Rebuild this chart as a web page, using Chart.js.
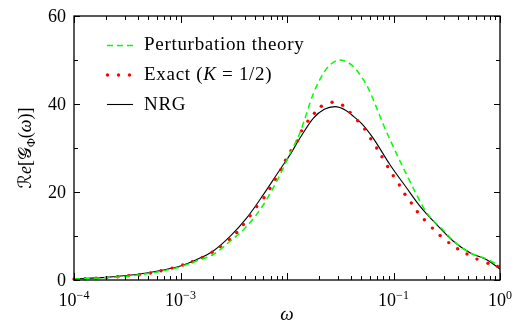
<!DOCTYPE html>
<html>
<head>
<meta charset="utf-8">
<script src="https://cdn.jsdelivr.net/npm/chart.js@4.4.1/dist/chart.umd.min.js"></script>
<style>
  html, body { margin: 0; padding: 0; background: #fff; }
  canvas { display: block; }
</style>
</head>
<body>
<canvas id="chart" width="527" height="320"></canvas>
<script>
// values (x = omega on a log axis)
const exactOmega = [1.00e-4, 1.27e-4, 1.61e-4, 2.03e-4, 2.57e-4, 3.26e-4, 4.10e-4, 5.21e-4, 6.56e-4, 8.32e-4,
  1.05e-3, 1.29e-3, 1.60e-3, 1.98e-3, 2.37e-3, 2.88e-3, 3.37e-3, 3.89e-3, 4.50e-3, 5.19e-3,
  6.08e-3, 6.92e-3, 7.76e-3, 8.79e-3, 9.70e-3, 1.09e-2, 1.25e-2, 1.37e-2, 1.57e-2, 1.81e-2,
  2.10e-2, 2.65e-2, 3.33e-2, 3.91e-2, 4.61e-2, 5.36e-2, 6.11e-2, 6.95e-2, 7.80e-2, 8.81e-2,
  9.95e-2, 0.1135, 0.128, 0.147, 0.1675, 0.195, 0.232, 0.274, 0.330, 0.400,
  0.490, 0.608, 0.771, 0.951];
const exactValues = [0.2, 0.3, 0.4, 0.55, 0.75, 1.0, 1.2, 1.6, 2.1, 2.7,
  3.4, 4.15, 5.1, 6.3, 7.6, 9.2, 10.8, 12.6, 14.6, 16.7,
  18.7, 20.8, 22.9, 25.1, 27.2, 29.4, 31.6, 33.9, 36.1, 37.9,
  39.5, 40.4, 39.7, 38.1, 36.2, 34.3, 32.1, 30.0, 28.0, 25.8,
  23.7, 21.6, 19.5, 17.5, 15.5, 13.7, 11.8, 10.1, 8.5, 7.1,
  5.9, 4.75, 3.8, 3.1];

const nrgOmega = [1.0e-4, 2.0e-4, 4.0e-4, 6.3e-4, 1.0e-3, 1.41e-3, 2.03e-3, 2.92e-3, 4.19e-3, 6.0e-3,
  8.6e-3, 1.07e-2, 1.32e-2, 1.77e-2, 2.24e-2, 2.82e-2, 3.55e-2, 4.06e-2, 5.0e-2, 6.46e-2,
  9.27e-2, 0.133, 0.177, 0.254, 0.365, 0.522, 0.75, 1.0];
const nrgValues = [0.25, 0.6, 1.3, 2.1, 3.2, 4.6, 6.6, 9.9, 14.1, 19.4,
  25.1, 28.5, 32.2, 36.8, 38.8, 39.4, 38.6, 37.5, 35.6, 32.2,
  26.2, 20.9, 16.8, 12.6, 8.8, 6.2, 4.6, 2.5];

const ptOmega = [1.0e-4, 3.16e-4, 6.3e-4, 1.0e-3, 1.41e-3, 2.03e-3, 2.92e-3, 4.19e-3, 6.0e-3, 8.6e-3,
  1.07e-2, 1.32e-2, 1.77e-2, 2.0e-2, 2.24e-2, 2.51e-2, 3.15e-2, 3.55e-2, 3.98e-2, 4.47e-2,
  5.0e-2, 5.62e-2, 6.31e-2, 7.08e-2, 8.0e-2, 9.27e-2, 0.133, 0.205, 0.294, 0.365,
  0.522, 0.75, 1.0];
const ptValues = [0.2, 0.85, 1.9, 3.0, 4.3, 5.8, 8.8, 12.2, 17.1, 23.9,
  28.8, 33.4, 42.4, 45.2, 47.3, 48.8, 50.0, 49.7, 49.0, 47.8,
  46.2, 44.2, 41.6, 38.6, 35.4, 31.9, 23.9, 15.3, 11.3, 8.9,
  6.2, 4.75, 3.2];

const xLabelExponents = [-4, -3, -1, 0];   // the original has no 10^-2 label
const yLabelValues = [0, 20, 40, 60];
const yMinorValues = [10, 30, 50];

const serif = '"Liberation Serif", "DejaVu Serif", serif';
const mathFont = '"DejaVu Serif", "DejaVu Sans", serif';

const toPoints = (xs, ys) => xs.map((x, i) => ({ x: x, y: ys[i] }));

// draws a list of [text, font, dy] runs starting at x, returns end x
function drawRuns(ctx, runs, x, y) {
  runs.forEach(r => {
    ctx.font = r[1];
    ctx.fillText(r[0], x, y + (r[2] || 0));
    x += ctx.measureText(r[0]).width;
  });
  return x;
}
function runsWidth(ctx, runs) {
  let w = 0;
  runs.forEach(r => { ctx.font = r[1]; w += ctx.measureText(r[0]).width; });
  return w;
}

const framePlugin = {
  id: 'frame',
  afterDatasetsDraw(chart) {
    const ctx = chart.ctx;
    const a = chart.chartArea;
    const x = chart.scales.x, y = chart.scales.y;
    ctx.save();
    ctx.strokeStyle = '#000';
    ctx.lineWidth = 1;
    ctx.beginPath();
    // log ticks, top and bottom, pointing inwards
    for (let e = -4; e <= 0; e++) {
      for (let m = 1; m <= 9; m++) {
        const v = m * Math.pow(10, e);
        if (v > 1.0001) break;
        const px = Math.round(x.getPixelForValue(v)) + 0.5;
        const len = m === 1 ? 7 : 4;
        ctx.moveTo(px, a.bottom); ctx.lineTo(px, a.bottom - len);
        ctx.moveTo(px, a.top); ctx.lineTo(px, a.top + len);
      }
    }
    yLabelValues.concat(yMinorValues).forEach(v => {
      const py = Math.round(y.getPixelForValue(v)) + 0.5;
      const len = yLabelValues.includes(v) ? 6 : 4;
      ctx.moveTo(a.left, py); ctx.lineTo(a.left + len, py);
      ctx.moveTo(a.right, py); ctx.lineTo(a.right - len, py);
    });
    ctx.stroke();
    ctx.lineWidth = 1.3;
    ctx.strokeRect(a.left, a.top, a.right - a.left, a.bottom - a.top);

    ctx.fillStyle = '#000';
    ctx.textBaseline = 'alphabetic';
    // y tick labels
    ctx.font = '18px ' + serif;
    ctx.textAlign = 'right';
    yLabelValues.forEach(v => {
      ctx.fillText(String(v), a.left - 8, y.getPixelForValue(v) + 6);
    });
    // x tick labels 10^n
    ctx.textAlign = 'left';
    xLabelExponents.forEach(e => {
      const px = x.getPixelForValue(Math.pow(10, e));
      const sup = e < 0 ? '\u2212' + (-e) : String(e);
      const runs = [['10', '18px ' + serif, 0], [sup, '12px ' + serif, -7]];
      const w = runsWidth(ctx, runs);
      drawRuns(ctx, runs, px - w / 2, a.bottom + 26);
    });
    // x title
    ctx.font = 'italic 19px ' + serif;
    ctx.textAlign = 'center';
    ctx.fillText('\u03C9', (a.left + a.right) / 2, 320);
    // y title, rotated
    ctx.save();
    ctx.translate(31, 148);
    ctx.rotate(-Math.PI / 2);
    ctx.textAlign = 'left';
    const yRuns = [
      ['\u211B', '18px ' + mathFont, 0],
      ['e', 'italic 18px ' + serif, 0],
      ['[', '18px ' + serif, 0],
      ['\uD835\uDCA2', '18px ' + mathFont, 0],
      ['\u03A6', '12px ' + serif, 4],
      ['(', '18px ' + serif, 0],
      ['\u03C9', 'italic 18px ' + serif, 0],
      [')]', '18px ' + serif, 0]
    ];
    drawRuns(ctx, yRuns, -runsWidth(ctx, yRuns) / 2, 0);
    ctx.restore();

    // legend
    const lx0 = 107, lx1 = 133, tx = 144;
    ctx.lineWidth = 1.5;
    ctx.strokeStyle = '#00ff00';
    ctx.setLineDash([6, 4]);
    ctx.beginPath(); ctx.moveTo(lx0, 45.5); ctx.lineTo(lx1, 45.5); ctx.stroke();
    ctx.setLineDash([]);
    ctx.fillStyle = '#ff0000';
    [107.5, 118.5, 129.5].forEach(px => {
      ctx.beginPath(); ctx.arc(px, 75, 1.7, 0, Math.PI * 2); ctx.fill();
    });
    ctx.strokeStyle = '#000';
    ctx.lineWidth = 1.1;
    ctx.beginPath(); ctx.moveTo(lx0, 104.5); ctx.lineTo(lx1, 104.5); ctx.stroke();

    ctx.fillStyle = '#000';
    ctx.textAlign = 'left';
    ctx.letterSpacing = '0.7px';
    drawRuns(ctx, [['Perturbation theory', '19px ' + serif, 0]], tx, 50);
    drawRuns(ctx, [['Exact (', '19px ' + serif, 0], ['K', 'italic 19px ' + serif, 0],
      [' = 1/2)', '19px ' + serif, 0]], tx, 80);
    drawRuns(ctx, [['NRG', '19px ' + serif, 0]], tx, 110);
    ctx.letterSpacing = '0px';
    ctx.restore();
  }
};

new Chart(document.getElementById('chart'), {
  type: 'scatter',
  data: {
    datasets: [
      {
        label: 'Perturbation theory',
        data: toPoints(ptOmega, ptValues),
        showLine: true,
        borderColor: '#00ff00',
        borderWidth: 1.5,
        borderDash: [6, 4],
        pointRadius: 0,
        cubicInterpolationMode: 'monotone'
      },
      {
        label: 'Exact (K = 1/2)',
        data: toPoints(exactOmega, exactValues),
        showLine: false,
        backgroundColor: '#ff0000',
        borderWidth: 0,
        pointRadius: 1.7,
        clip: false
      },
      {
        label: 'NRG',
        data: toPoints(nrgOmega, nrgValues),
        showLine: true,
        borderColor: '#000',
        borderWidth: 1.1,
        pointRadius: 0,
        cubicInterpolationMode: 'monotone'
      }
    ]
  },
  options: {
    responsive: false,
    devicePixelRatio: 1,
    animation: false,
    layout: { padding: { left: 74, right: 27, top: 16, bottom: 40 } },
    plugins: { legend: { display: false }, tooltip: { enabled: false } },
    scales: {
      x: { type: 'logarithmic', min: 1e-4, max: 1, display: false },
      y: { type: 'linear', min: 0, max: 60, display: false }
    }
  },
  plugins: [framePlugin]
});
</script>
</body>
</html>
